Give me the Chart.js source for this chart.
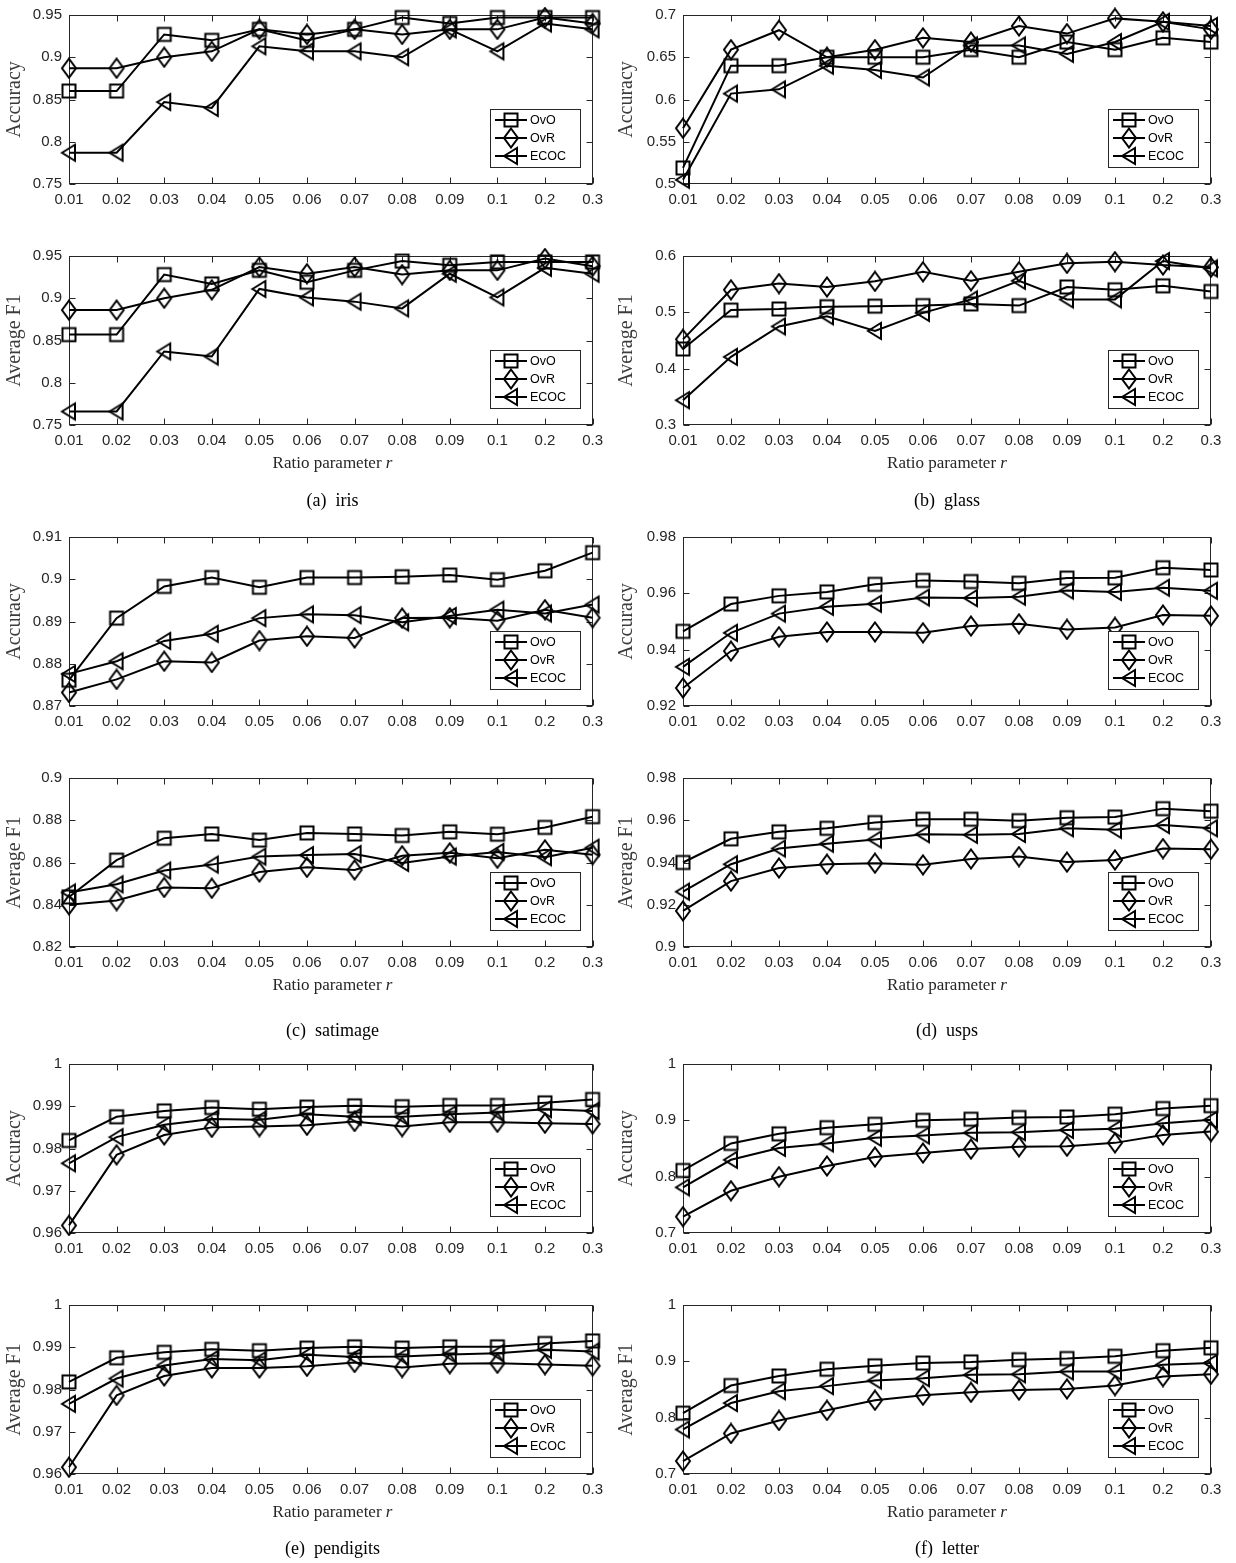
<!DOCTYPE html>
<html>
<head>
<meta charset="utf-8">
<script src="https://cdn.jsdelivr.net/npm/chart.js@4.4.1/dist/chart.umd.min.js"></script>
<style>
body{margin:0;background:#fff;width:1236px;height:1563px;position:relative;overflow:hidden}
canvas{position:absolute}
.xl{position:absolute;font:17px "Liberation Serif",serif;color:#262626;transform:translateX(-50%);white-space:nowrap;line-height:20px}
.cap{position:absolute;font:18px "Liberation Serif",serif;color:#000;transform:translateX(-50%);white-space:pre;line-height:20px}
</style>
</head>
<body>
<script>
const ratios = ['0.01','0.02','0.03','0.04','0.05','0.06','0.07','0.08','0.09','0.1','0.2','0.3'];
const methods = ['OvO','OvR','ECOC'];

// (a) iris
const irisAccOvO  = [0.86,0.86,0.927,0.92,0.933,0.92,0.933,0.947,0.94,0.947,0.947,0.947];
const irisAccOvR  = [0.887,0.887,0.9,0.907,0.933,0.927,0.933,0.927,0.933,0.933,0.947,0.94];
const irisAccECOC = [0.787,0.787,0.847,0.84,0.913,0.907,0.907,0.9,0.933,0.907,0.94,0.933];
const irisF1OvO   = [0.857,0.857,0.928,0.917,0.933,0.919,0.933,0.944,0.939,0.943,0.943,0.943];
const irisF1OvR   = [0.886,0.886,0.9,0.91,0.937,0.929,0.937,0.928,0.933,0.933,0.947,0.938];
const irisF1ECOC  = [0.766,0.766,0.837,0.831,0.911,0.901,0.896,0.888,0.929,0.901,0.936,0.929];
const irisTicks   = [0.75,0.8,0.85,0.9,0.95];

// (b) glass
const glassAccOvO  = [0.519,0.640,0.640,0.650,0.650,0.650,0.659,0.650,0.668,0.659,0.673,0.668];
const glassAccOvR  = [0.566,0.659,0.682,0.650,0.659,0.673,0.668,0.687,0.678,0.696,0.692,0.683];
const glassAccECOC = [0.505,0.607,0.612,0.640,0.635,0.626,0.664,0.664,0.654,0.668,0.692,0.687];
const glassF1OvO   = [0.435,0.504,0.506,0.510,0.511,0.512,0.515,0.512,0.545,0.540,0.547,0.537];
const glassF1OvR   = [0.452,0.540,0.551,0.545,0.555,0.572,0.556,0.572,0.587,0.590,0.584,0.580];
const glassF1ECOC  = [0.344,0.421,0.475,0.493,0.467,0.499,0.523,0.556,0.523,0.523,0.591,0.578];
const glassAccTicks = [0.5,0.55,0.6,0.65,0.7];
const glassF1Ticks  = [0.3,0.4,0.5,0.6];

// (c) satimage
const satAccOvO  = [0.8761,0.8908,0.8983,0.9004,0.8981,0.9004,0.9004,0.9006,0.9010,0.8999,0.9020,0.9063];
const satAccOvR  = [0.8732,0.8763,0.8806,0.8803,0.8855,0.8865,0.8861,0.8908,0.8909,0.8902,0.8928,0.8909];
const satAccECOC = [0.8776,0.8806,0.8854,0.8871,0.8908,0.8917,0.8915,0.8898,0.8913,0.8928,0.8919,0.8940];
const satF1OvO   = [0.8437,0.8611,0.8715,0.8735,0.8706,0.8740,0.8735,0.8728,0.8745,0.8734,0.8766,0.8817];
const satF1OvR   = [0.8400,0.8420,0.8482,0.8478,0.8555,0.8577,0.8565,0.8632,0.8646,0.8620,0.8660,0.8637];
const satF1ECOC  = [0.8458,0.8497,0.8562,0.8590,0.8628,0.8635,0.8640,0.8598,0.8628,0.8650,0.8625,0.8670];
const satAccTicks = [0.87,0.88,0.89,0.9,0.91];
const satF1Ticks  = [0.82,0.84,0.86,0.88,0.9];

// (d) usps
const uspsAccOvO  = [0.9465,0.9562,0.9591,0.9605,0.9632,0.9646,0.9642,0.9636,0.9654,0.9655,0.9691,0.9683];
const uspsAccOvR  = [0.9264,0.9395,0.9446,0.9463,0.9463,0.9460,0.9484,0.9492,0.9472,0.9479,0.9523,0.9520];
const uspsAccECOC = [0.9339,0.9460,0.9528,0.9552,0.9563,0.9585,0.9583,0.9588,0.9610,0.9605,0.9620,0.9609];
const uspsF1OvO   = [0.9400,0.9512,0.9545,0.9562,0.9589,0.9605,0.9605,0.9598,0.9612,0.9615,0.9655,0.9643];
const uspsF1OvR   = [0.9171,0.9312,0.9374,0.9392,0.9397,0.9389,0.9417,0.9428,0.9402,0.9412,0.9466,0.9463];
const uspsF1ECOC  = [0.9262,0.9392,0.9466,0.9489,0.9509,0.9534,0.9531,0.9535,0.9562,0.9555,0.9577,0.9562];
const uspsAccTicks = [0.92,0.94,0.96,0.98];
const uspsF1Ticks  = [0.9,0.92,0.94,0.96,0.98];

// (e) pendigits
const penAccOvO  = [0.9819,0.9875,0.9889,0.9897,0.9893,0.9898,0.9901,0.9899,0.9902,0.9902,0.9908,0.9916];
const penAccOvR  = [0.9618,0.9785,0.9832,0.9850,0.9852,0.9855,0.9864,0.9852,0.9862,0.9862,0.9860,0.9858];
const penAccECOC = [0.9765,0.9827,0.9856,0.9870,0.9868,0.9881,0.9875,0.9875,0.9881,0.9885,0.9893,0.9889];
const penF1OvO   = [0.9818,0.9875,0.9888,0.9895,0.9892,0.9898,0.9901,0.9898,0.9901,0.9901,0.9909,0.9915];
const penF1OvR   = [0.9616,0.9786,0.9832,0.9851,0.9851,0.9855,0.9864,0.9852,0.9861,0.9862,0.9859,0.9856];
const penF1ECOC  = [0.9766,0.9826,0.9857,0.9872,0.9869,0.9882,0.9877,0.9878,0.9883,0.9886,0.9894,0.9890];
const penTicks   = [0.96,0.97,0.98,0.99,1];

// (f) letter
const letAccOvO  = [0.811,0.859,0.876,0.887,0.893,0.900,0.902,0.905,0.906,0.911,0.921,0.926];
const letAccOvR  = [0.729,0.775,0.800,0.819,0.835,0.842,0.849,0.853,0.854,0.860,0.874,0.880];
const letAccECOC = [0.781,0.830,0.851,0.859,0.869,0.873,0.878,0.879,0.883,0.885,0.895,0.901];
const letF1OvO   = [0.808,0.857,0.874,0.886,0.892,0.897,0.899,0.903,0.905,0.909,0.919,0.924];
const letF1OvR   = [0.723,0.772,0.795,0.813,0.831,0.840,0.845,0.849,0.851,0.857,0.873,0.877];
const letF1ECOC  = [0.779,0.826,0.847,0.856,0.866,0.870,0.876,0.877,0.882,0.882,0.894,0.897];
const letTicks   = [0.7,0.8,0.9,1];

const captions = ['(a)  iris','(b)  glass','(c)  satimage','(d)  usps','(e)  pendigits','(f)  letter'];

// hollow MATLAB-like markers
function marker(kind){
  const c=document.createElement('canvas');
  c.width=20; c.height=22;
  const g=c.getContext('2d');
  g.strokeStyle='#000'; g.lineWidth=2; g.lineJoin='miter';
  g.beginPath();
  if(kind==='square'){ g.rect(3.5,4.5,13,13); }
  else if(kind==='diamond'){ g.moveTo(10,1.5); g.lineTo(17,11); g.lineTo(10,20.5); g.lineTo(3,11); g.closePath(); }
  else { g.moveTo(3,11); g.lineTo(16,3); g.lineTo(16,19); g.closePath(); }
  g.stroke();
  return c;
}
const marks=[marker('square'),marker('diamond'),marker('tri')];

const framePlugin={
  id:'frame',
  beforeDatasetsDraw(chart){
    const {ctx,chartArea:a,scales:{x,y}}=chart;
    const l=Math.round(a.left)+0.5, r=Math.round(a.right)-0.5, t=Math.round(a.top)+0.5, b=Math.round(a.bottom)-0.5;
    ctx.save();
    ctx.strokeStyle='#262626'; ctx.lineWidth=1;
    ctx.strokeRect(l,t,r-l,b-t);
    ctx.beginPath();
    x.ticks.forEach((tk,i)=>{
      const px=Math.round(x.getPixelForTick(i))+0.5;
      ctx.moveTo(px,b); ctx.lineTo(px,b-6);
      ctx.moveTo(px,t); ctx.lineTo(px,t+6);
    });
    y.ticks.forEach(tk=>{
      const py=Math.round(y.getPixelForValue(tk.value))+0.5;
      ctx.moveTo(l,py); ctx.lineTo(l+6,py);
      ctx.moveTo(r,py); ctx.lineTo(r-6,py);
    });
    ctx.stroke();
    ctx.restore();
  }
};

const legendPlugin={
  id:'boxLegend',
  afterDatasetsDraw(chart){
    const {ctx,chartArea:a}=chart;
    const w=90,h=58;
    const x0=Math.round(a.right-13-w), y0=Math.round(a.bottom-17-h);
    ctx.save();
    ctx.fillStyle='#fff'; ctx.fillRect(x0,y0,w,h);
    ctx.strokeStyle='#262626'; ctx.lineWidth=1; ctx.strokeRect(x0+0.5,y0+0.5,w,h);
    ctx.font='12.5px "Liberation Sans", Arial, sans-serif'; ctx.textBaseline='middle';
    chart.data.datasets.forEach((d,i)=>{
      const yy=y0+11+i*18;
      ctx.beginPath(); ctx.moveTo(x0+5,yy); ctx.lineTo(x0+37,yy);
      ctx.lineWidth=2; ctx.strokeStyle='#000'; ctx.stroke();
      const m=d.pointStyle;
      ctx.drawImage(m,x0+21-m.width/2,yy-m.height/2);
      ctx.fillStyle='#000'; ctx.fillText(d.label,x0+40,yy+1);
    });
    ctx.restore();
  }
};

const cols=[{left:0,width:610,axis:69,padR:14},{left:612,width:624,axis:71,padR:25}];
const groupTop=[11,533,1060];
const rowGap=241, plotH=173;
const tickFont={family:'"Liberation Sans", Arial, sans-serif',size:15};

const panels=[
  {g:0,c:0,row:0,title:'Accuracy',ticks:irisTicks,series:[irisAccOvO,irisAccOvR,irisAccECOC]},
  {g:0,c:0,row:1,title:'Average F1',ticks:irisTicks,series:[irisF1OvO,irisF1OvR,irisF1ECOC]},
  {g:0,c:1,row:0,title:'Accuracy',ticks:glassAccTicks,series:[glassAccOvO,glassAccOvR,glassAccECOC]},
  {g:0,c:1,row:1,title:'Average F1',ticks:glassF1Ticks,series:[glassF1OvO,glassF1OvR,glassF1ECOC]},
  {g:1,c:0,row:0,title:'Accuracy',ticks:satAccTicks,series:[satAccOvO,satAccOvR,satAccECOC]},
  {g:1,c:0,row:1,title:'Average F1',ticks:satF1Ticks,series:[satF1OvO,satF1OvR,satF1ECOC]},
  {g:1,c:1,row:0,title:'Accuracy',ticks:uspsAccTicks,series:[uspsAccOvO,uspsAccOvR,uspsAccECOC]},
  {g:1,c:1,row:1,title:'Average F1',ticks:uspsF1Ticks,series:[uspsF1OvO,uspsF1OvR,uspsF1ECOC]},
  {g:2,c:0,row:0,title:'Accuracy',ticks:penTicks,series:[penAccOvO,penAccOvR,penAccECOC]},
  {g:2,c:0,row:1,title:'Average F1',ticks:penTicks,series:[penF1OvO,penF1OvR,penF1ECOC]},
  {g:2,c:1,row:0,title:'Accuracy',ticks:letTicks,series:[letAccOvO,letAccOvR,letAccECOC]},
  {g:2,c:1,row:1,title:'Average F1',ticks:letTicks,series:[letF1OvO,letF1OvR,letF1ECOC]}
];

function addText(cls,html,cx,cy){
  const d=document.createElement('div');
  d.className=cls; d.innerHTML=html;
  d.style.left=cx+'px'; d.style.top=(cy-10)+'px';
  document.body.appendChild(d);
}

panels.forEach(p=>{
  const col=cols[p.c];
  const top=groupTop[p.g]+p.row*rowGap;
  const cv=document.createElement('canvas');
  cv.width=col.width; cv.height=215;
  cv.style.left=col.left+'px'; cv.style.top=(top-12)+'px';
  document.body.appendChild(cv);
  new Chart(cv,{
    type:'line',
    data:{
      labels:ratios,
      datasets:methods.map((m,i)=>({
        label:m,data:p.series[i],borderColor:'#000',borderWidth:2,
        pointStyle:marks[i],pointRadius:7,clip:false,tension:0,fill:false
      }))
    },
    options:{
      responsive:false,animation:false,devicePixelRatio:1,
      layout:{padding:{top:12,right:col.padR,left:0,bottom:0}},
      plugins:{legend:{display:false},tooltip:{enabled:false}},
      scales:{
        x:{
          grid:{display:false,drawTicks:false},border:{display:false},
          ticks:{autoSkip:false,maxRotation:0,padding:7,color:'#262626',font:tickFont},
          afterFit:s=>{s.height=30;}
        },
        y:{
          min:p.ticks[0],max:p.ticks[p.ticks.length-1],
          grid:{display:false,drawTicks:false},border:{display:false},
          afterBuildTicks:s=>{s.ticks=p.ticks.map(v=>({value:v}));},
          ticks:{padding:7,color:'#262626',font:tickFont,callback:v=>String(+v.toFixed(3))},
          title:{display:true,text:p.title,color:'#3c3c3c',font:{family:'"Liberation Serif", serif',size:20},padding:{top:3,bottom:0}},
          afterFit:s=>{s.width=col.axis;}
        }
      }
    },
    plugins:[framePlugin,legendPlugin]
  });
  const cx=col.left+col.axis+(col.width-col.axis-col.padR)/2;
  if(p.row===1){
    addText('xl','Ratio parameter <i>r</i>',cx,top+plotH+38);
  }
});

const capY=[500,1030,1548];
captions.forEach((t,i)=>{
  const col=cols[i%2];
  const cx=col.left+col.axis+(col.width-col.axis-col.padR)/2;
  addText('cap',t,cx,capY[Math.floor(i/2)]);
});
</script>
</body>
</html>
